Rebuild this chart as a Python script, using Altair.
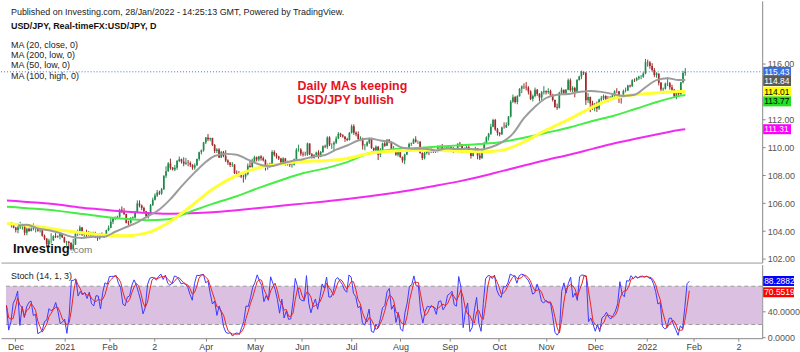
import altair as alt
import numpy as np
import pandas as pd

# ------------------------------------------------------------------ data
# USD/JPY daily candles, 25 Nov 2020 .. 28 Jan 2022 (open = previous close)
first_open = 104.45
close = [
    104.45, 104.25, 104.08, 104.27,
    104.34, 104.44, 103.88, 104.17, 104.00, 104.16, 104.23, 104.25, 104.03, 104.05, 103.66, 103.45, 103.07, 103.32,
    103.33, 103.63, 103.57, 103.63, 103.79, 103.56, 103.20, 103.24,
    103.14, 102.69, 103.03, 103.80, 103.94, 104.25, 103.76, 103.89, 103.79, 103.86, 103.69, 103.87, 103.54, 103.48,
    103.77, 103.76, 103.62, 104.07, 104.24, 104.67,
    104.92, 104.97, 105.02, 105.53, 105.39, 105.22, 104.58, 104.57, 104.93, 104.97, 105.36, 105.98, 105.84, 105.66,
    105.42, 105.06, 105.24, 105.88, 106.25, 106.56,
    106.77, 106.70, 107.00, 107.97, 108.30, 108.85, 108.55, 108.41, 108.55, 109.03, 109.15, 109.00, 108.84, 108.91,
    108.88, 108.75, 108.56, 108.70, 109.18, 109.66, 109.80, 110.36, 110.72,
    110.59, 110.68, 110.17, 109.74, 109.86, 109.28, 109.66, 109.38, 109.07, 108.92, 108.74, 108.77, 108.15, 108.12,
    108.09, 107.92, 107.89, 108.09, 108.69, 108.60, 108.92, 109.30,
    109.13, 109.36, 109.22, 109.08, 108.58, 108.77, 108.62, 109.68, 109.48, 109.35, 109.21, 108.89, 109.21, 108.78,
    108.94, 108.75, 108.76, 109.16, 109.83, 109.86, 109.55,
    109.50, 109.49, 110.29, 109.52, 109.24, 109.47, 109.63, 109.34, 109.67, 110.08, 110.06, 110.71, 110.21, 110.21,
    110.34, 110.65, 110.98, 110.87, 110.78, 110.61, 110.54, 111.06,
    111.53, 111.05, 110.95, 110.61, 110.65, 110.14, 110.15, 110.36, 110.62, 109.97, 109.80, 110.06, 109.47, 109.84,
    110.29, 110.12, 110.56, 110.40, 109.80, 109.91, 109.47, 109.72,
    109.31, 109.06, 109.49, 109.77, 110.24, 110.28, 110.58, 110.41, 110.41, 109.60, 109.25, 109.61, 109.77, 109.75,
    109.79, 109.71, 109.71, 110.05, 110.07, 109.83, 109.92, 110.02,
    110.02, 109.93, 109.71, 109.84, 110.26, 110.23, 109.72, 109.92, 110.03, 109.67, 109.38, 109.71, 109.95, 109.42,
    109.22, 109.79, 110.29, 110.74, 110.98, 111.49, 111.98, 111.29,
    111.05, 110.94, 111.44, 111.43, 111.61, 112.22, 113.28, 113.61, 113.26, 113.68, 114.21, 114.38, 114.36, 114.30,
    114.01, 113.47, 113.69, 114.15, 113.84, 113.58, 113.96,
    114.03, 113.96, 114.06, 113.75, 113.41, 112.91, 112.85, 113.92, 114.15, 113.88, 114.14, 114.82, 114.11, 114.26,
    114.00, 114.84, 115.09, 115.44, 115.36, 113.39, 113.62, 113.15,
    112.81, 113.13, 112.79, 113.44, 113.53, 113.70, 113.47, 113.39, 113.55, 113.73, 114.04, 114.03, 113.69, 113.63,
    114.06, 114.09, 114.44, 114.39, 114.83, 114.82, 114.96, 115.07, 115.08,
    115.31, 116.12, 116.09, 115.84, 115.56, 115.20, 115.30, 114.65, 114.18, 114.22, 114.59, 114.60, 114.33, 114.14,
    113.68, 113.98, 113.83, 114.68, 115.34, 115.43,
]
high = [
    104.65, 104.50, 104.30, 104.47,
    104.67, 104.53, 104.50, 104.24, 104.25, 104.30, 104.55, 104.30, 104.40, 104.20, 104.10, 103.75, 103.50, 103.45,
    103.85, 103.70, 103.85, 103.70, 103.90, 103.85, 103.60, 103.30,
    103.30, 103.20, 103.45, 103.95, 104.10, 104.40, 104.30, 103.95, 104.10, 104.00, 103.95, 103.95, 103.95, 103.70,
    103.85, 103.90, 103.80, 104.10, 104.40, 104.95,
    105.00, 105.05, 105.10, 105.60, 105.77, 105.65, 105.25, 104.75, 105.00, 105.05, 105.45, 106.20, 106.20, 105.90,
    105.75, 105.45, 105.35, 105.95, 106.40, 106.70,
    106.95, 106.90, 107.10, 108.00, 108.65, 108.95, 109.20, 108.60, 108.75, 109.10, 109.35, 109.20, 109.30, 109.25,
    109.10, 109.00, 108.80, 108.85, 109.20, 109.70, 109.85, 110.40, 110.75,
    110.97, 110.70, 110.70, 110.25, 109.95, 109.95, 109.75, 109.75, 109.80, 109.15, 108.95, 108.95, 108.80, 108.35,
    108.30, 108.15, 108.05, 108.20, 108.85, 109.10, 109.20, 109.40,
    109.35, 109.40, 109.45, 109.35, 109.15, 108.85, 108.90, 109.80, 109.80, 109.60, 109.40, 109.25, 109.30, 109.25,
    109.05, 109.00, 108.90, 109.20, 109.95, 110.20, 109.95,
    109.70, 109.70, 110.35, 110.30, 109.60, 109.50, 109.70, 109.80, 109.75, 110.15, 110.20, 110.80, 110.80, 110.30,
    110.45, 110.80, 111.10, 111.05, 110.95, 110.80, 110.70, 111.10,
    111.65, 111.66, 111.15, 111.15, 110.80, 110.70, 110.25, 110.45, 110.70, 110.70, 110.00, 110.15, 110.10, 109.95,
    110.35, 110.40, 110.60, 110.60, 110.45, 110.10, 109.95, 109.80,
    109.75, 109.35, 109.55, 109.80, 110.35, 110.35, 110.65, 110.80, 110.50, 110.45, 109.65, 109.70, 109.85, 109.85,
    109.95, 109.90, 109.85, 110.15, 110.15, 110.25, 110.00, 110.10,
    110.15, 110.10, 110.05, 109.90, 110.30, 110.40, 110.25, 110.00, 110.10, 110.15, 109.75, 109.80, 110.05, 109.95,
    109.70, 109.90, 110.40, 110.80, 111.05, 111.70, 112.05, 112.05,
    111.40, 111.10, 111.50, 111.80, 111.80, 112.25, 113.40, 113.80, 113.70, 113.75, 114.25, 114.45, 114.60, 114.70,
    114.40, 114.10, 113.80, 114.30, 114.20, 113.90, 114.05,
    114.40, 114.10, 114.25, 114.15, 113.85, 113.45, 113.15, 114.00, 114.30, 114.15, 114.20, 114.95, 114.95, 114.40,
    114.35, 114.90, 115.15, 115.52, 115.45, 115.40, 113.90, 113.65,
    113.35, 113.20, 113.30, 113.50, 113.70, 113.80, 113.75, 113.70, 113.70, 113.80, 114.10, 114.25, 114.05, 113.75,
    114.15, 114.30, 114.50, 114.50, 114.90, 114.95, 115.05, 115.15, 115.20,
    115.40, 116.35, 116.30, 116.20, 116.05, 115.70, 115.40, 115.30, 114.70, 114.30, 114.65, 115.05, 114.70, 114.50,
    114.20, 114.05, 114.10, 114.70, 115.50, 115.70,
]
low = [
    104.25, 104.20, 103.90, 103.84,
    104.15, 104.10, 103.70, 103.70, 103.94, 103.98, 104.05, 103.90, 103.95, 103.90, 103.60, 103.35, 102.88, 102.95,
    103.10, 103.30, 103.50, 103.50, 103.40, 103.50, 103.15, 102.95,
    102.72, 102.60, 102.59, 103.00, 103.65, 103.70, 103.65, 103.55, 103.55, 103.65, 103.55, 103.55, 103.50, 103.30,
    103.40, 103.60, 103.50, 103.55, 104.00, 104.20,
    104.50, 104.80, 104.85, 104.95, 105.30, 105.15, 104.55, 104.40, 104.55, 104.80, 104.90, 105.30, 105.70, 105.50,
    105.30, 104.95, 104.90, 105.20, 105.80, 106.20,
    106.45, 106.60, 106.60, 106.95, 107.80, 108.25, 108.40, 108.35, 108.30, 108.40, 108.95, 108.85, 108.65, 108.75,
    108.65, 108.60, 108.40, 108.40, 108.70, 109.05, 109.50, 109.70, 110.25,
    110.45, 110.45, 110.10, 109.60, 109.60, 109.25, 109.25, 109.30, 108.95, 108.75, 108.60, 108.60, 108.10, 107.95,
    107.90, 107.80, 107.48, 107.70, 108.00, 108.55, 108.55, 108.90,
    109.00, 109.00, 109.05, 109.00, 108.34, 108.40, 108.55, 108.60, 109.35, 109.20, 109.10, 108.85, 108.80, 108.70,
    108.70, 108.60, 108.55, 108.70, 109.10, 109.70, 109.40,
    109.35, 109.40, 109.40, 109.45, 109.20, 109.20, 109.40, 109.20, 109.30, 109.60, 109.95, 109.90, 110.10, 109.90,
    109.70, 110.25, 110.60, 110.75, 110.70, 110.40, 110.45, 110.50,
    111.00, 110.90, 110.80, 110.55, 110.45, 109.85, 109.80, 110.05, 110.25, 109.90, 109.65, 109.75, 109.10, 109.30,
    109.75, 110.05, 110.10, 110.30, 109.75, 109.75, 109.40, 109.35,
    109.25, 108.90, 108.80, 109.45, 109.70, 110.10, 110.25, 110.35, 110.25, 109.55, 109.10, 109.15, 109.50, 109.45,
    109.60, 109.60, 109.60, 109.65, 109.90, 109.75, 109.80, 109.80,
    109.90, 109.85, 109.60, 109.70, 109.80, 110.05, 109.60, 109.70, 109.85, 109.60, 109.20, 109.35, 109.70, 109.15,
    109.10, 109.20, 109.70, 110.25, 110.50, 110.90, 111.45, 111.20,
    110.85, 110.80, 110.90, 111.35, 111.40, 111.55, 112.15, 113.20, 113.15, 113.10, 113.65, 113.90, 114.20, 114.10,
    113.80, 113.40, 113.30, 113.60, 113.70, 113.30, 113.40,
    113.80, 113.80, 113.85, 113.70, 113.30, 112.85, 112.70, 112.80, 113.80, 113.80, 113.80, 114.10, 114.00, 113.95,
    113.60, 113.95, 114.80, 114.90, 115.20, 113.05, 113.20, 112.53,
    112.70, 112.60, 112.55, 112.70, 113.30, 113.40, 113.40, 113.25, 113.35, 113.50, 113.60, 113.90, 113.20, 113.15,
    113.60, 113.95, 114.05, 114.30, 114.35, 114.70, 114.75, 114.85, 114.90,
    115.00, 115.25, 115.80, 115.65, 115.45, 115.05, 115.00, 114.45, 113.85, 113.85, 114.15, 114.40, 114.15, 113.95,
    113.60, 113.47, 113.70, 113.75, 114.60, 115.15,
]

# moving averages (bar index, value)
ma_idx = [-2, 11, 21, 31, 41, 51, 61, 71, 81, 91, 102, 112, 122, 132, 142, 152, 162, 172, 182, 192,
          202, 212, 222, 232, 242, 253, 263, 273, 283, 293, 303, 305]
ma50_low = [104.55, 104.35, 104.1, 103.9, 103.72, 103.66, 103.85, 104.6, 105.75, 107.0, 108.0, 108.55,
            108.82, 109.0, 109.05, 109.21, 109.57, 109.73, 109.8, 109.8, 109.73, 109.69, 109.8, 110.4,
            111.24, 112.07, 112.9, 113.55, 113.8, 113.93, 114.02, 114.01]
ma100_high = [105.75, 105.6, 105.45, 105.25, 105.05, 104.88, 104.78, 104.85, 105.4, 105.95, 106.5, 107.1,
              107.65, 108.15, 108.5, 108.95, 109.6, 109.85, 109.95, 110.05, 110.15, 110.25, 110.4, 110.7,
              111.05, 111.45, 111.9, 112.3, 112.8, 113.3, 113.72, 113.77]
ma200_low = [106.2, 106.05, 105.9, 105.7, 105.55, 105.4, 105.3, 105.25, 105.28, 105.35, 105.5, 105.65,
             105.82, 105.97, 106.13, 106.3, 106.5, 106.72, 106.97, 107.25, 107.55, 107.9, 108.3, 108.7,
             109.1, 109.5, 109.9, 110.3, 110.65, 110.97, 111.27, 111.31]
ma20_idx = [3] + list(range(7, 303, 5)) + [305]
ma20_close = [104.40, 104.45, 104.19, 104.06, 103.86, 103.60, 103.51, 103.59, 103.60, 103.95, 104.29, 104.63,
              105.08, 105.55, 106.29, 107.21, 108.05, 108.82, 109.39, 109.54, 109.48, 109.13, 108.80, 108.65,
              108.84, 109.03, 109.16, 109.35, 109.46, 109.84, 110.14, 110.50, 110.65, 110.50, 110.37, 109.98,
              109.91, 109.91, 109.79, 109.92, 109.89, 109.90, 109.85, 110.02, 110.36, 110.99, 112.10, 112.92,
              113.55, 113.79, 113.84, 113.98, 114.06, 113.99, 113.84, 113.70, 113.78, 114.32, 114.83, 114.97,
              114.84, 114.84]

price_ticks = [102, 104, 106, 108, 110, 112, 116]
stoch_ticks = [0, 40]
stoch_band = [20, 80]
month_labels = ["Dec", "2021", "Feb", "2", "Apr", "May", "Jun", "Jul", "Aug", "Sep", "Oct", "Nov",
                "Dec", "2022", "Feb", "2"]
price_tags = [115.43, 114.84, 114.01, 113.77, 111.31]
stoch_tags = [88.2882, 70.5519]

# ------------------------------------------------------------------ style / layout
FONT = "Liberation Sans"
W, H_PRICE, H_STOCH = 765, 263, 74
X_DOMAIN = [-2.44, 337.56]
PRICE_DOMAIN = [101.74, 120.52]
STOCH_DOMAIN = [-1.56, 114.06]
UP, DOWN = "#1f8a4c", "#a3282a"
price_tag_bg = ["#3d6fdc", "#5a5a5a", "#ffff00", "#22e022", "#ff00ff"]
price_tag_fg = ["white", "white", "black", "black", "white"]
price_tag_shift = [0, 1, 0, 6.5, 0]
stoch_tag_bg = ["#0000ff", "#ff0000"]

# ------------------------------------------------------------------ frames
n = min(len(close), len(high), len(low))
opens = [first_open] + close[:n - 1]
df = pd.DataFrame({"i": list(range(n)), "open": opens, "close": close[:n],
                   "high": high[:n], "low": low[:n]})
df["dir"] = np.where(df["close"] >= df["open"], "up", "down")

holidays = set(pd.to_datetime(["2020-12-25", "2021-01-01"]))
days = [d for d in pd.bdate_range("2020-11-25", "2022-03-31") if d not in holidays]
month_tick_idx, seen = [], set()
for i, d in enumerate(days):
    key = (d.year, d.month)
    if key not in seen:
        seen.add(key)
        if key >= (2020, 12):
            month_tick_idx.append(i)
month_tick_idx = month_tick_idx[:len(month_labels)]

s_c, s_h, s_l = pd.Series(close[:n]), pd.Series(high[:n]), pd.Series(low[:n])
ll = s_l.rolling(14, min_periods=1).min()
hh = s_h.rolling(14, min_periods=1).max()
k = 100 * (s_c - ll) / (hh - ll)
dline = k.rolling(3, min_periods=1).mean()
stoch_df = pd.DataFrame({"i": list(range(n)), "k": k.values, "d": dline.values})

xs = alt.Scale(domain=X_DOMAIN, nice=False, zero=False)
ys_p = alt.Scale(domain=PRICE_DOMAIN, nice=False, zero=False)
ys_s = alt.Scale(domain=STOCH_DOMAIN, nice=False, zero=False)


def txt(text, x, y, size=9, color="#222", weight="normal", baseline="middle"):
    return alt.Chart(pd.DataFrame({"t": [text]})).mark_text(
        align="left", baseline=baseline, fontSize=size, font=FONT, color=color, fontWeight=weight
    ).encode(x=alt.value(x), y=alt.value(y), text="t:N")


# ------------------------------------------------------------------ price panel
color_enc = alt.Color("dir:N", scale=alt.Scale(domain=["up", "down"], range=[UP, DOWN]), legend=None)
x_axis_p = alt.Axis(labels=False, ticks=False, grid=False, title=None, domainColor="#9a9a9a")
y_axis_p = alt.Axis(orient="right", values=price_ticks, format=".2f", labelFontSize=9, labelFont=FONT,
                    labelColor="#555", tickSize=3, tickColor="#888", domainColor="#888", grid=False,
                    title=None, labelPadding=2, labelOverlap=False, labelFlush=False)

wicks = alt.Chart(df).mark_rule(strokeWidth=1, clip=True).encode(
    x=alt.X("i:Q", scale=xs, axis=x_axis_p, title=None),
    y=alt.Y("low:Q", scale=ys_p, axis=y_axis_p, title=None), y2="high:Q", color=color_enc)
bodies = alt.Chart(df).mark_bar(width=1.7, clip=True).encode(
    x=alt.X("i:Q", title=None), y=alt.Y("open:Q", title=None), y2="close:Q", color=color_enc)


def ma_layer(ix, vals, color, w):
    d = pd.DataFrame({"i": ix, "v": vals})
    return alt.Chart(d).mark_line(color=color, strokeWidth=w, interpolate="monotone", clip=True).encode(
        x=alt.X("i:Q", title=None), y=alt.Y("v:Q", title=None))


ma200 = ma_layer(ma_idx, ma200_low, "#f02cf0", 2)
ma100 = ma_layer(ma_idx, ma100_high, "#44ee44", 2)
ma50 = ma_layer(ma_idx, ma50_low, "#ffff33", 3)
ma20 = ma_layer(ma20_idx, ma20_close, "#9c9c9c", 2)

price_line = alt.Chart(pd.DataFrame({"v": [close[n - 1]]})).mark_rule(
    color="#4a6fdc", strokeDash=[1, 2], strokeWidth=1).encode(
    y=alt.Y("v:Q", title=None), x=alt.value(0), x2=alt.value(W))

tags = []
for v, bg, fg, sh in zip(price_tags, price_tag_bg, price_tag_fg, price_tag_shift):
    dt = pd.DataFrame({"v": [v], "t": [f"{v:.2f}"]})
    tags.append(alt.Chart(dt).mark_tick(orient="horizontal", size=28, thickness=10, color=bg, opacity=1,
                                        yOffset=sh).encode(y=alt.Y("v:Q", title=None), x=alt.value(780)))
    tags.append(alt.Chart(dt).mark_text(align="left", baseline="middle", fontSize=8.5, font=FONT,
                                        color=fg, dy=sh).encode(y=alt.Y("v:Q", title=None),
                                                                 x=alt.value(767), text="t:N"))

header = [
    txt("Published on Investing.com, 28/Jan/2022 - 14:25:13 GMT, Powered by TradingView.", 10, 11),
    txt("USD/JPY, Real-timeFX:USD/JPY, D", 10, 25, weight="bold", color="#111"),
    txt("MA (20, close, 0)", 10, 44),
    txt("MA (200, low, 0)", 10, 54),
    txt("MA (50, low, 0)", 10, 64.5),
    txt("MA (100, high, 0)", 10, 75.5),
    txt("Daily MAs keeping", 298, 90, size=12.5, color="#e81123", weight="bold", baseline="alphabetic"),
    txt("USD/JPY bullish", 298, 104, size=12.5, color="#e81123", weight="bold", baseline="alphabetic"),
    txt("Investing", 12, 253, size=13, color="#111", weight="bold", baseline="alphabetic"),
    txt(".com", 70, 253, size=10, color="#777", baseline="alphabetic"),
]

price = alt.layer(wicks, bodies, ma200, ma100, ma50, ma20, price_line, *tags, *header).properties(
    width=W, height=H_PRICE)

# ------------------------------------------------------------------ stochastic panel
label_expr = ("[" + ",".join(f"'{l}'" for l in month_labels) + "][indexof(["
              + ",".join(str(t) for t in month_tick_idx) + "], datum.value)]")
x_axis_s = alt.Axis(values=month_tick_idx, labelExpr=label_expr, labelFontSize=9, labelFont=FONT,
                    labelColor="#444", tickSize=3, tickColor="#888", domainColor="#888", grid=False,
                    title=None, labelPadding=1, labelOverlap=False, labelFlush=False)
y_axis_s = alt.Axis(orient="right", values=stoch_ticks, format=".4f", labelFontSize=9, labelFont=FONT,
                    labelColor="#555", tickSize=3, tickColor="#888", domainColor="#888", grid=False,
                    title=None, labelPadding=2, labelOverlap=False, labelFlush=False)

band = alt.Chart(pd.DataFrame({"lo": [stoch_band[0]], "hi": [stoch_band[1]]})).mark_rect(
    color="#dbc0e2").encode(y=alt.Y("hi:Q", scale=ys_s, title=None), y2="lo:Q",
                             x=alt.value(5), x2=alt.value(W))
band_lines = alt.Chart(pd.DataFrame({"v": stoch_band})).mark_rule(
    color="#999", strokeDash=[4, 3], strokeWidth=1).encode(
    y=alt.Y("v:Q", title=None), x=alt.value(5), x2=alt.value(W))
k_line = alt.Chart(stoch_df).mark_line(color="#3a3aff", strokeWidth=1, clip=True).encode(
    x=alt.X("i:Q", scale=xs, axis=x_axis_s, title=None),
    y=alt.Y("k:Q", scale=ys_s, axis=y_axis_s, title=None))
d_line = alt.Chart(stoch_df).mark_line(color="#ee2020", strokeWidth=1, clip=True).encode(
    x=alt.X("i:Q", title=None), y=alt.Y("d:Q", title=None))

stags = []
for v, bg in zip(stoch_tags, stoch_tag_bg):
    dt = pd.DataFrame({"v": [v], "t": [f"{v:.4f}"]})
    stags.append(alt.Chart(dt).mark_tick(orient="horizontal", size=31, thickness=10, color=bg,
                                         opacity=1).encode(y=alt.Y("v:Q", title=None), x=alt.value(781.5)))
    stags.append(alt.Chart(dt).mark_text(align="left", baseline="middle", fontSize=8.5, font=FONT,
                                         color="white").encode(y=alt.Y("v:Q", title=None),
                                                                x=alt.value(767), text="t:N"))

stoch = alt.layer(band, band_lines, k_line, d_line, *stags, txt("Stoch (14, 1, 3)", 10, 12)).properties(
    width=W, height=H_STOCH)

chart = alt.vconcat(price, stoch, spacing=0).properties(
    padding={"left": 0, "top": 0, "right": 0, "bottom": 0}, background="white"
).configure_view(stroke=None)

chart.save("out.html", embed_options={"renderer": "svg", "actions": False})
